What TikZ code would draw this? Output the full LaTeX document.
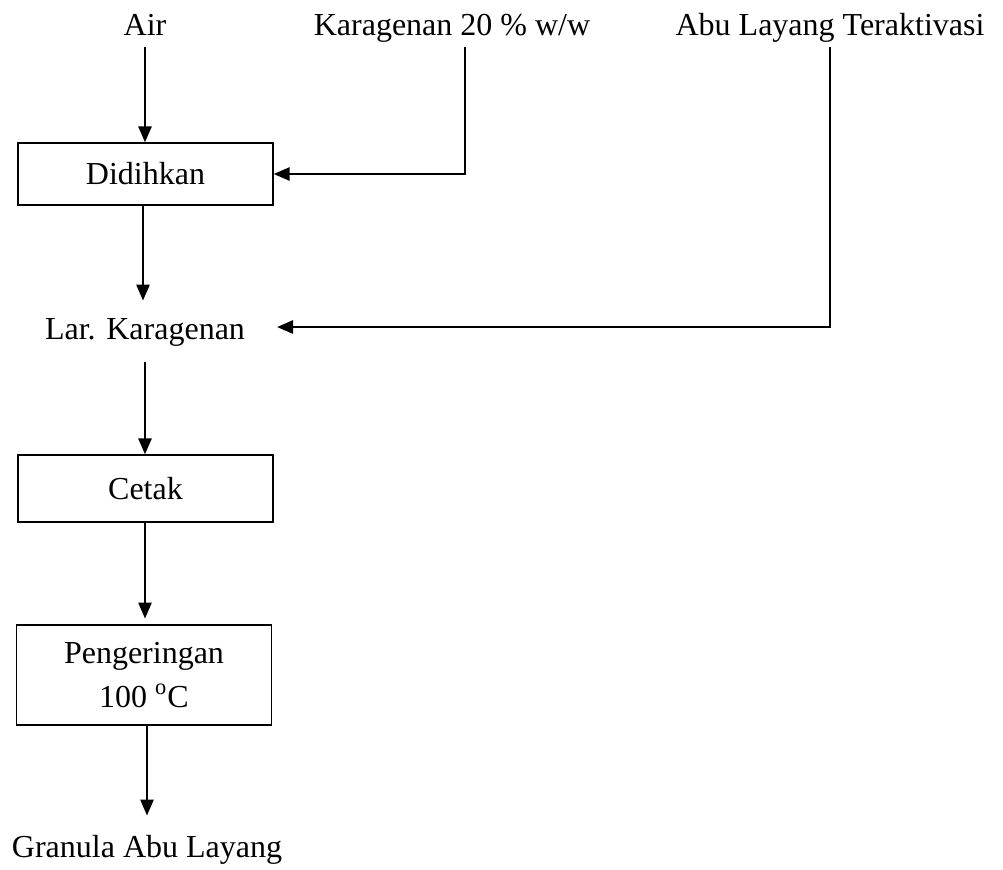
\documentclass[tikz,border=0pt]{standalone}
\usepackage{fontspec}
\setmainfont{Liberation Serif}
\usetikzlibrary{positioning, arrows.meta}
\tikzset{
	procbox/.style={draw=black, line width=0.6pt, minimum width=127.5pt, minimum height=31pt, inner sep=0pt, align=center, font=\fontsize{16}{22}\selectfont},
	plaintext/.style={inner sep=0pt, anchor=base, font=\fontsize{16}{20}\selectfont},
	flow/.style={line width=1.3pt, -{Triangle[length=8pt, width=6.5pt]}}
}
\begin{document}
\begin{tikzpicture}[x=0.5pt, y=-0.5pt]
	\useasboundingbox (0,0) rectangle (1003,869);

	\node[plaintext] (air) at (145,35) {Air};
	\node[plaintext] (karagenan) at (452,35) {Karagenan 20 \% w/w};
	\node[plaintext] (abu) at (830,35) {Abu Layang Teraktivasi};

	\node[procbox] (didihkan) at (145.5,174) {Didihkan};
	\node[plaintext] (lar) at (145,339) {Lar. Karagenan};
	\node[procbox, minimum height=33.5pt] (cetak) at (145.5,488.5) {Cetak};
	\node[procbox, minimum height=50pt] (kering) at (144,675) {Pengeringan\\100 \textsuperscript{o}C};
	\node[plaintext] (granula) at (147,857) {Granula Abu Layang};

	\coordinate (airbot) at (145,47);
	\coordinate (ktop) at (465,47);
	\coordinate (atop) at (830,47);
	\coordinate (larin) at (277,327);
	\coordinate (larbot) at (145,362);

	\draw[flow] (airbot) -- (didihkan.north -| airbot);
	\draw[flow] (ktop) |- (didihkan.east);
	\draw[flow] (didihkan.south -| 143,0) -- ++(0,95);
	\draw[flow] (atop) |- (larin);
	\draw[flow] (larbot) -- (cetak.north -| larbot);
	\draw[flow] (cetak.south -| 145,0) -- ++(0,96);
	\draw[flow] (kering.south -| 147,0) -- ++(0,90);
\end{tikzpicture}
\end{document}
